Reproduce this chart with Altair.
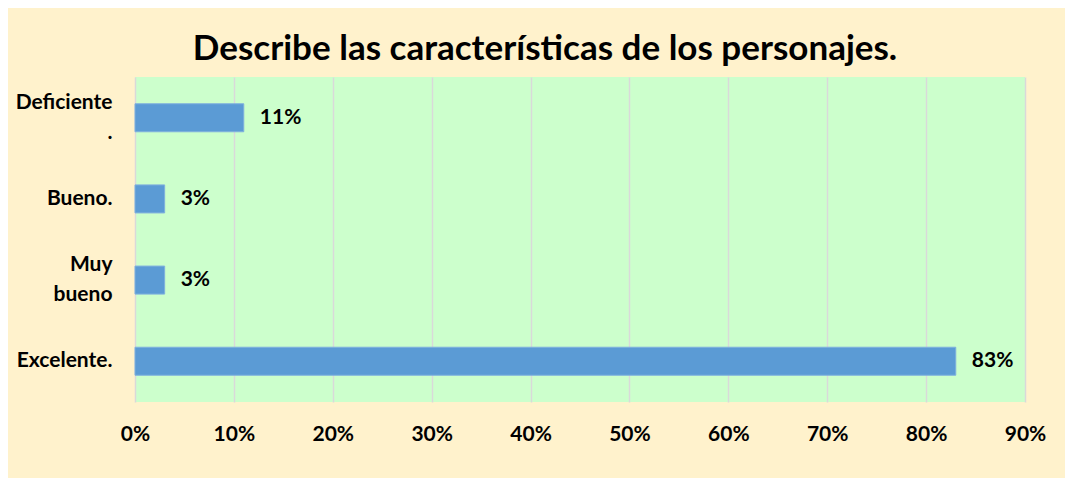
import altair as alt
import pandas as pd

categories = ["Deficiente .", "Bueno.", "Muy bueno", "Excelente."]
values = [11, 3, 3, 83]

df = pd.DataFrame({"cat": categories, "val": [v / 100 for v in values],
                   "txt": [f"{v}%" for v in values]})

FONT = "Lato"

y_enc = alt.Y("cat:N", sort=categories, title=None,
              scale=alt.Scale(paddingInner=0.655, paddingOuter=0.33),
              axis=alt.Axis(labelFont=FONT, labelFontSize=21, labelFontWeight="bold",
                            labelColor="black", labelAlign="right", labelPadding=23,
                            ticks=False, domain=False, grid=False, labelLineHeight=30,
                            labelOffset=alt.ExprRef("datum.value == 'Deficiente .' || datum.value == 'Muy bueno' ? -15 : 0"),
                            labelExpr="datum.value == 'Deficiente .' ? ['Deficiente','.'] : datum.value == 'Muy bueno' ? ['Muy','bueno'] : datum.value"))
x_enc = alt.X("val:Q", title=None,
              scale=alt.Scale(domain=[0, 0.9], nice=False),
              axis=alt.Axis(format="%", values=[i / 10 for i in range(10)],
                            labelFont=FONT, labelFontSize=21, labelFontWeight="bold",
                            labelColor="black", labelPadding=21, ticks=False, domain=False,
                            grid=True, gridColor="#D9D9D9", gridWidth=1.5,
                            labelFlush=False))

base = alt.Chart(df)
bars = base.mark_bar(color="#5B9BD5", stroke="#7FB0DE", strokeWidth=1).encode(x=x_enc, y=y_enc)
texts = base.mark_text(align="left", dx=16, font=FONT, fontSize=21, fontWeight="bold",
                       color="black").encode(x="val:Q", y=alt.Y("cat:N", sort=categories), text="txt:N")

chart = (bars + texts).properties(
    width=890, height=325,
    title=alt.TitleParams("Describe  las características de los personajes.", font=FONT,
                          fontSize=35, fontWeight="bold", color="black", anchor="middle",
                          dx=-35, offset=10),
    background="#FFF2CC",
    padding={"left": 127, "top": 69, "right": 40, "bottom": 76},
    autosize=alt.AutoSizeParams(type="none"),
).configure_view(fill="#CCFFCC", stroke=None)

chart.save("out.html", embed_options={"renderer": "svg", "actions": False})
